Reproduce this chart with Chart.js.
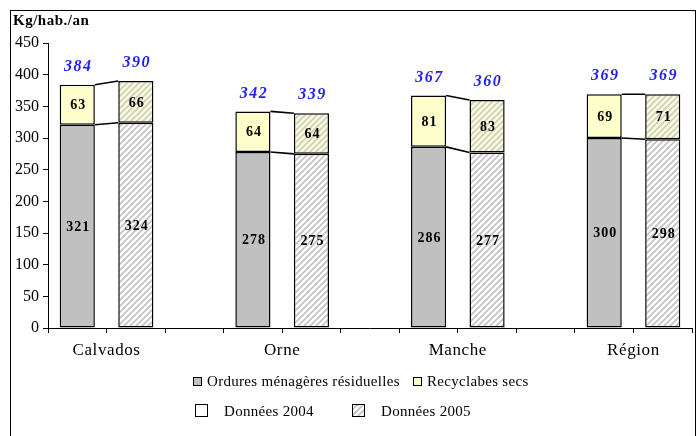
<!DOCTYPE html>
<html>
<head>
<meta charset="utf-8">
<script src="https://cdn.jsdelivr.net/npm/chart.js@4.4.0/dist/chart.umd.min.js"></script>
<style>
html, body { margin: 0; padding: 0; background: #fff; }
#wrap { width: 698px; height: 436px; }
</style>
</head>
<body>
<div id="wrap"><canvas id="chart"></canvas></div>
<script>
// Data
const regions = ['Calvados', 'Orne', 'Manche', 'Région'];
const residuels2004 = [321, 278, 286, 300];
const residuels2005 = [324, 275, 277, 298];
const recyclables2004 = [63, 64, 81, 69];
const recyclables2005 = [66, 64, 83, 71];
const yTicks = [0, 50, 100, 150, 200, 250, 300, 350, 400, 450];

const SERIF = '"Liberation Serif", "Times New Roman", serif';

// Diagonal hatch used for the 2005 bars
function makeHatch(bg, stripe) {
    const c = document.createElement('canvas');
    c.width = 6; c.height = 6;
    const g = c.getContext('2d');
    g.fillStyle = bg;
    g.fillRect(0, 0, 6, 6);
    g.strokeStyle = stripe;
    g.lineWidth = 1.8;
    g.beginPath();
    g.moveTo(-1, 7); g.lineTo(7, -1);
    g.moveTo(-1, 1); g.lineTo(1, -1);
    g.moveTo(5, 7); g.lineTo(7, 5);
    g.stroke();
    return g.createPattern(c, 'repeat');
}

const grayFill = '#c0c0c0';
const yellowFill = '#ffffcc';
const grayHatch = makeHatch('#ffffff', '#c4c4c4');
const yellowHatch = makeHatch('#fcfce0', '#cfcfb8');

// 11 slots: 2004, 2005, gap for each region
const slotLabels = [];
const residuelSlots = [];
const recyclableSlots = [];
const residuelColors = [];
const recyclableColors = [];
regions.forEach((r, i) => {
    slotLabels.push(r + ' 2004', r + ' 2005');
    residuelSlots.push(residuels2004[i], residuels2005[i]);
    recyclableSlots.push(recyclables2004[i], recyclables2005[i]);
    residuelColors.push(grayFill, grayHatch);
    recyclableColors.push(yellowFill, yellowHatch);
    if (i < regions.length - 1) {
        slotLabels.push('');
        residuelSlots.push(null);
        recyclableSlots.push(null);
        residuelColors.push(grayFill);
        recyclableColors.push(yellowFill);
    }
});

const overlayPlugin = {
    id: 'overlay',
    afterDatasetsDraw(chart) {
        const ctx = chart.ctx;
        const m0 = chart.getDatasetMeta(0).data;
        const m1 = chart.getDatasetMeta(1).data;
        ctx.save();

        regions.forEach((r, i) => {
            const a = i * 3, b = i * 3 + 1;
            const wa = m0[a].width / 2, wb = m0[b].width / 2;

            // joining lines between 2004 and 2005 bars
            ctx.strokeStyle = '#000';
            ctx.lineWidth = 1.6;
            ctx.beginPath();
            ctx.moveTo(m1[a].x + wa, m1[a].y);
            ctx.lineTo(m1[b].x - wb, m1[b].y);
            ctx.moveTo(m0[a].x + wa, m0[a].y);
            ctx.lineTo(m0[b].x - wb, m0[b].y);
            ctx.stroke();

            // values inside the segments
            ctx.fillStyle = '#000';
            ctx.font = 'bold 14px ' + SERIF;
            ctx.letterSpacing = '1px';
            ctx.textAlign = 'center';
            ctx.textBaseline = 'middle';
            [a, b].forEach(k => {
                ctx.fillText(String(residuelSlots[k]), m0[k].x + 1, (m0[k].y + m0[k].base) / 2 + 1);
                ctx.fillText(String(recyclableSlots[k]), m1[k].x + 1, (m1[k].y + m1[k].base) / 2 + 1);
            });

            // totals above
            ctx.fillStyle = '#1f1fee';
            ctx.font = 'italic bold 16px ' + SERIF;
            ctx.letterSpacing = '1.5px';
            [a, b].forEach(k => {
                ctx.fillText(String(residuelSlots[k] + recyclableSlots[k]), m1[k].x + 1, m1[k].y - 18);
            });

            // region label between the two bars
            ctx.fillStyle = '#000';
            ctx.font = '17px ' + SERIF;
            ctx.letterSpacing = '0.6px';
            ctx.fillText(r, (m0[a].x + m0[b].x) / 2, 351);
        });

        // axis title
        ctx.font = 'bold 15px ' + SERIF;
        ctx.letterSpacing = '0.5px';
        ctx.textAlign = 'left';
        ctx.fillText('Kg/hab./an', 13, 21);

        // legend
        ctx.font = '15px ' + SERIF;
        ctx.letterSpacing = '0.3px';
        ctx.lineWidth = 1;
        ctx.strokeStyle = '#000';
        const box = (x, y, s, fill) => {
            ctx.fillStyle = fill;
            ctx.fillRect(x, y, s, s);
            ctx.strokeRect(x + 0.5, y + 0.5, s - 1, s - 1);
        };
        box(193, 377, 9, grayFill);
        ctx.fillStyle = '#000';
        ctx.fillText('Ordures ménagères résiduelles', 207, 382);
        box(413, 377, 9, yellowFill);
        ctx.fillStyle = '#000';
        ctx.fillText('Recyclabes secs', 427, 382);

        box(195, 404, 13, '#ffffff');
        ctx.fillStyle = '#000';
        ctx.fillText('Données 2004', 224, 412);
        box(352, 404, 13, grayHatch);
        ctx.fillStyle = '#000';
        ctx.fillText('Données 2005', 381, 412);

        // outer frame
        ctx.strokeRect(10.5, 10.5, 685, 440);
        ctx.restore();
    }
};

new Chart(document.getElementById('chart'), {
    type: 'bar',
    data: {
        labels: slotLabels,
        datasets: [
            {
                label: 'Ordures ménagères résiduelles',
                data: residuelSlots,
                backgroundColor: residuelColors,
                borderColor: '#000',
                borderWidth: 1.5,
                borderSkipped: false,
                categoryPercentage: 1,
                barPercentage: 0.6
            },
            {
                label: 'Recyclabes secs',
                data: recyclableSlots,
                backgroundColor: recyclableColors,
                borderColor: '#000',
                borderWidth: 1.5,
                borderSkipped: false,
                categoryPercentage: 1,
                barPercentage: 0.6
            }
        ]
    },
    options: {
        responsive: true,
        maintainAspectRatio: false,
        animation: false,
        layout: { padding: { left: 0, top: 43, right: 6, bottom: 0 } },
        plugins: {
            legend: { display: false },
            tooltip: { enabled: false }
        },
        scales: {
            x: {
                stacked: true,
                offset: true,
                grid: { offset: true, drawOnChartArea: false, color: '#000', tickLength: 5 },
                border: { color: '#000', width: 1 },
                ticks: { display: false },
                afterFit(scale) { scale.height = 108; }
            },
            y: {
                stacked: true,
                min: 0,
                max: 450,
                afterBuildTicks(scale) { scale.ticks = yTicks.map(v => ({ value: v })); },
                grid: { drawOnChartArea: false, color: '#000', tickLength: 5 },
                border: { color: '#000', width: 1 },
                ticks: { color: '#000', padding: 4, font: { family: SERIF, size: 16 } },
                afterFit(scale) { scale.width = 48; }
            }
        }
    },
    plugins: [overlayPlugin]
});
</script>
</body>
</html>
